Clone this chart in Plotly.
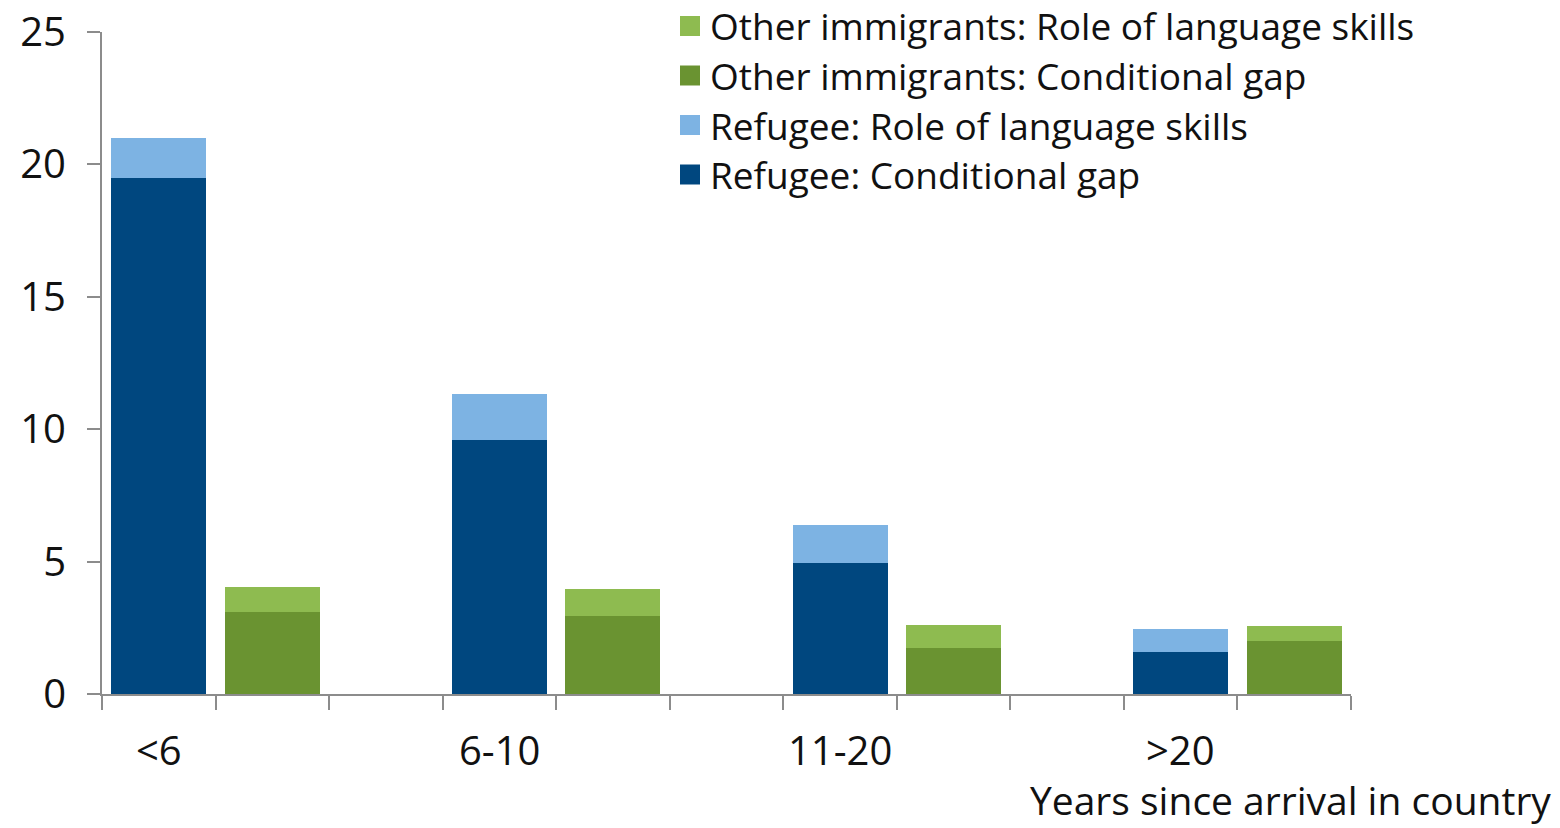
import plotly.graph_objects as go

# Years since arrival groups
categories = ["<6", "6-10", "11-20", ">20"]

# Gap components (stacked): conditional gap + role of language skills
refugee_conditional = [19.5, 9.6, 4.96, 1.6]
refugee_language = [1.51, 1.72, 1.42, 0.84]
other_conditional = [3.08, 2.93, 1.75, 2.01]
other_language = [0.95, 1.05, 0.86, 0.57]

y_ticks = [0, 5, 10, 15, 20, 25]

names = {
    "rc": "Refugee: Conditional gap",
    "rl": "Refugee: Role of language skills",
    "oc": "Other immigrants: Conditional gap",
    "ol": "Other immigrants: Role of language skills",
}
colors = {"rc": "#00477F", "rl": "#7DB3E3", "oc": "#6A9331", "ol": "#8EBB50"}

FONT = "Open Sans"
# each group takes three slots: refugee bar, other bar, empty spacer
ref_x = [3 * i for i in range(len(categories))]
oth_x = [3 * i + 1 for i in range(len(categories))]
bar_w = 0.836

fig = go.Figure()
for key, xs, ys in [
    ("rc", ref_x, refugee_conditional),
    ("rl", ref_x, refugee_language),
    ("oc", oth_x, other_conditional),
    ("ol", oth_x, other_language),
]:
    fig.add_trace(go.Bar(
        x=xs, y=ys, width=bar_w, name=names[key],
        marker=dict(color=colors[key], line=dict(width=0)),
        showlegend=False,
    ))

n_slots = 3 * len(categories) - 1
fig.update_layout(
    barmode="stack",
    width=1560, height=828,
    margin=dict(l=102, r=209, t=32, b=134, autoexpand=False),
    plot_bgcolor="white", paper_bgcolor="white",
    font=dict(family=FONT, size=38, color="#111111"),
    xaxis=dict(
        range=[-0.5, n_slots - 0.5],
        tickvals=[k - 0.5 for k in range(n_slots + 1)],
        ticktext=["" for _ in range(n_slots + 1)],
        ticks="outside", ticklen=14, tickwidth=2, tickcolor="#8C8C8C",
        showline=True, linecolor="#8C8C8C", linewidth=2,
        showgrid=False, zeroline=False, automargin=False,
    ),
    yaxis=dict(
        range=[0, 25],
        tickvals=y_ticks,
        ticks="outside", ticklen=13, tickwidth=2, tickcolor="#8C8C8C",
        showline=True, linecolor="#8C8C8C", linewidth=2,
        showgrid=False, zeroline=False, automargin=False,
        tickfont=dict(size=40),
        ticklabelstandoff=13,
    ),
)

# pixel -> paper helpers for the fixed plot area
plot_l, plot_w, plot_t, plot_h = 102, 1249, 32, 662
def px_x(px):
    return (px - plot_l) / plot_w
def px_y(py):
    return 1 - (py - plot_t) / plot_h

# category labels under each group
for cx, cat in zip(ref_x, categories):
    fig.add_annotation(
        x=cx, y=px_y(749), xref="x", yref="paper", text=cat, showarrow=False,
        yanchor="middle", font=dict(size=40),
    )

# axis title at the bottom right
fig.add_annotation(
    x=px_x(1553), y=px_y(799), xref="paper", yref="paper",
    text="Years since arrival in country",
    showarrow=False, xanchor="right", yanchor="middle", font=dict(size=39),
)

# legend: swatch + label rows
legend_order = ["ol", "oc", "rl", "rc"]
for i, key in enumerate(legend_order):
    cy = 26 + i * 49.5
    fig.add_shape(
        type="rect", xref="paper", yref="paper",
        x0=px_x(680), x1=px_x(700), y0=px_y(cy - 10), y1=px_y(cy + 10),
        fillcolor=colors[key], line=dict(width=0),
    )
    fig.add_annotation(
        x=px_x(708), y=px_y(cy), xref="paper", yref="paper", text=names[key],
        showarrow=False, xanchor="left", yanchor="middle", font=dict(size=37),
    )

fig.write_html("out.html")
